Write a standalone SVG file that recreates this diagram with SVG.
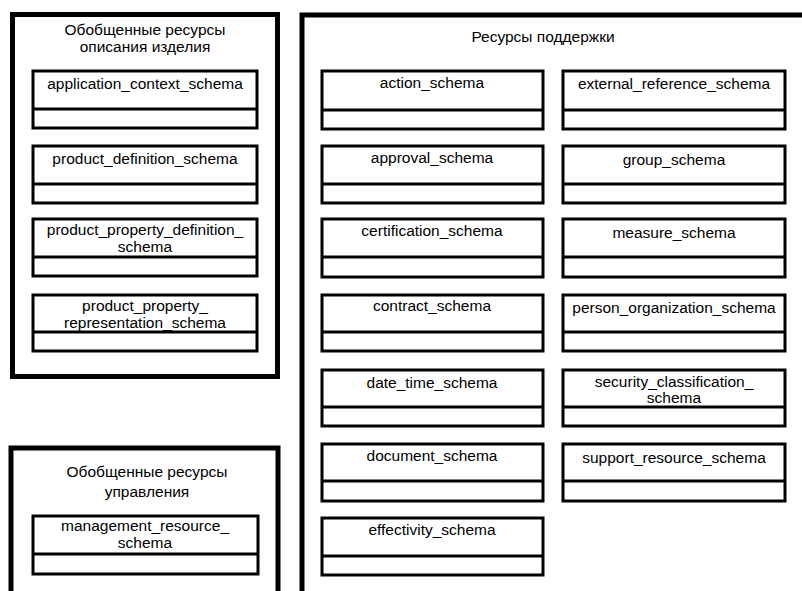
<svg xmlns="http://www.w3.org/2000/svg" width="802" height="591" viewBox="0 0 802 591">
<style>
.outer{fill:none;stroke:#000;stroke-width:5}
.box rect{fill:#fff;stroke:#000;stroke-width:3}
.box line{stroke:#000;stroke-width:3}
text{font-family:"Liberation Sans",Arial,sans-serif;font-size:15.5px;fill:#000;text-anchor:middle}
</style>
<rect width="802" height="591" fill="#fff"/>
<g id="group-product-description">
<rect class="outer" x="12.5" y="14.5" width="265" height="362"/>
<text x="145" y="35">Обобщенные ресурсы</text>
<text x="145" y="52">описания изделия</text>
</g>
<g id="group-management">
<rect class="outer" x="11" y="448" width="267" height="160"/>
<text x="147" y="477">Обобщенные ресурсы</text>
<text x="147" y="497">управления</text>
</g>
<g id="group-support">
<rect class="outer" x="302" y="15" width="520" height="590"/>
<text x="543" y="42">Ресурсы поддержки</text>
</g>
<g id="application_context_schema" class="box"><rect x="33" y="71" width="224" height="57"/><line x1="33" y1="109" x2="257" y2="109"/><text x="145" y="89">application_context_schema</text></g>
<g id="product_definition_schema" class="box"><rect x="33" y="146" width="224" height="57"/><line x1="33" y1="184" x2="257" y2="184"/><text x="145" y="164">product_definition_schema</text></g>
<g id="product_property_definition_schema" class="box"><rect x="33" y="219" width="224" height="57"/><line x1="33" y1="257" x2="257" y2="257"/><text x="145" y="235">product_property_definition_</text><text x="145" y="252">schema</text></g>
<g id="product_property_representation_schema" class="box"><rect x="33" y="295" width="224" height="56"/><line x1="33" y1="332" x2="257" y2="332"/><text x="145" y="311">product_property_</text><text x="145" y="328">representation_schema</text></g>
<g id="management_resource_schema" class="box"><rect x="33" y="516" width="225" height="58"/><line x1="33" y1="554" x2="258" y2="554"/><text x="145" y="531">management_resource_</text><text x="145" y="548">schema</text></g>
<g id="action_schema" class="box"><rect x="322" y="71" width="221" height="58"/><line x1="322" y1="110" x2="543" y2="110"/><text x="432" y="88">action_schema</text></g>
<g id="approval_schema" class="box"><rect x="322" y="146" width="221" height="57"/><line x1="322" y1="184" x2="543" y2="184"/><text x="432" y="163">approval_schema</text></g>
<g id="certification_schema" class="box"><rect x="322" y="219" width="221" height="58"/><line x1="322" y1="257" x2="543" y2="257"/><text x="432" y="236">certification_schema</text></g>
<g id="contract_schema" class="box"><rect x="322" y="295" width="221" height="56"/><line x1="322" y1="332" x2="543" y2="332"/><text x="432" y="311">contract_schema</text></g>
<g id="date_time_schema" class="box"><rect x="322" y="370" width="221" height="56"/><line x1="322" y1="407" x2="543" y2="407"/><text x="432" y="388">date_time_schema</text></g>
<g id="document_schema" class="box"><rect x="322" y="444" width="221" height="57"/><line x1="322" y1="481" x2="543" y2="481"/><text x="432" y="461">document_schema</text></g>
<g id="effectivity_schema" class="box"><rect x="322" y="518" width="221" height="57"/><line x1="322" y1="556" x2="543" y2="556"/><text x="432" y="535">effectivity_schema</text></g>
<g id="external_reference_schema" class="box"><rect x="563" y="71" width="222" height="58"/><line x1="563" y1="110" x2="785" y2="110"/><text x="674" y="89">external_reference_schema</text></g>
<g id="group_schema" class="box"><rect x="563" y="146" width="222" height="57"/><line x1="563" y1="184" x2="785" y2="184"/><text x="674" y="165">group_schema</text></g>
<g id="measure_schema" class="box"><rect x="563" y="219" width="222" height="58"/><line x1="563" y1="257" x2="785" y2="257"/><text x="674" y="238">measure_schema</text></g>
<g id="person_organization_schema" class="box"><rect x="563" y="295" width="222" height="56"/><line x1="563" y1="332" x2="785" y2="332"/><text x="674" y="313">person_organization_schema</text></g>
<g id="security_classification_schema" class="box"><rect x="563" y="370" width="222" height="56"/><line x1="563" y1="407" x2="785" y2="407"/><text x="674" y="387">security_classification_</text><text x="674" y="403">schema</text></g>
<g id="support_resource_schema" class="box"><rect x="563" y="444" width="222" height="57"/><line x1="563" y1="481" x2="785" y2="481"/><text x="674" y="463">support_resource_schema</text></g>
<g id="connectors"></g>
</svg>
